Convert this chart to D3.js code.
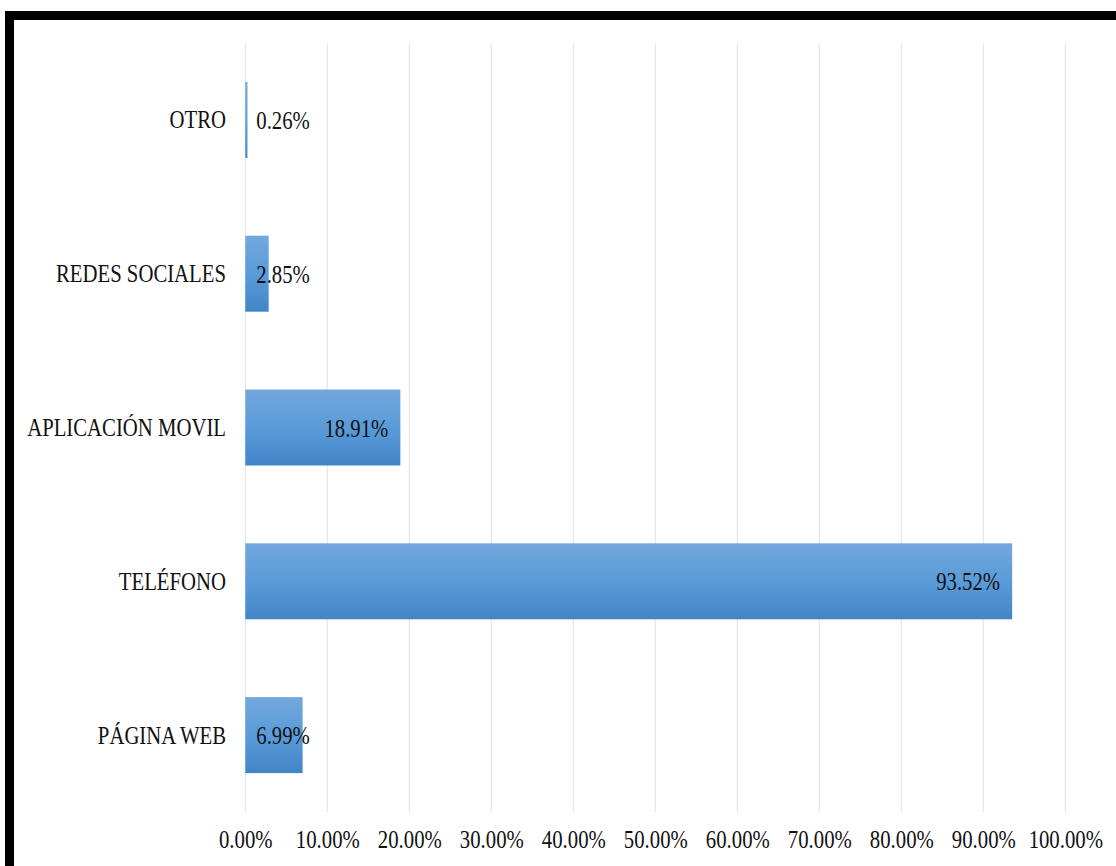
<!DOCTYPE html>
<html>
<head>
<meta charset="utf-8">
<script src="https://cdn.jsdelivr.net/npm/d3@7"></script>
<style>
  html, body { margin: 0; padding: 0; background: #fff; }
  svg { display: block; }
</style>
</head>
<body>
<svg id="chart" width="1116" height="866"></svg>
<script>
// Channels used, top to bottom, and their share (%)
const categories = ["OTRO", "REDES SOCIALES", "APLICACIÓN MOVIL", "TELÉFONO", "PÁGINA WEB"];
const values = [0.26, 2.85, 18.91, 93.52, 6.99];
const tickValues = [0, 10, 20, 30, 40, 50, 60, 70, 80, 90, 100];

const data = categories.map((c, i) => ({ cat: c, val: values[i] }));

const FONT = '"Liberation Serif", "Times New Roman", serif';
const svg = d3.select("#chart");
const W = 1116, H = 866;
const plot = { left: 245.3, right: 1065.3, top: 43, bottom: 812 };
const squeeze = 0.83;   // narrow serif glyphs
const fontSize = 25;
const ink = "#111";

const x = d3.scaleLinear().domain([0, 100]).range([plot.left, plot.right]);
const y = d3.scaleBand().domain(categories).range([plot.top, plot.bottom])
  .paddingInner(0.506).paddingOuter(0.253);

// bar gradient, light at top to darker at bottom
const defs = svg.append("defs");
const grad = defs.append("linearGradient").attr("id", "barGrad")
  .attr("x1", 0).attr("y1", 0).attr("x2", 0).attr("y2", 1);
grad.append("stop").attr("offset", "0%").attr("stop-color", "#72a8dd");
grad.append("stop").attr("offset", "50%").attr("stop-color", "#5a9bd9");
grad.append("stop").attr("offset", "100%").attr("stop-color", "#4285c7");

// vertical gridlines
svg.append("g").selectAll("line").data(tickValues).join("line")
  .attr("x1", d => x(d)).attr("x2", d => x(d))
  .attr("y1", plot.top).attr("y2", plot.bottom)
  .attr("stroke", "#e2e2e2").attr("stroke-width", 1);

// bars
svg.append("g").selectAll("rect").data(data).join("rect")
  .attr("x", x(0))
  .attr("y", d => y(d.cat))
  .attr("width", d => Math.max(1.5, x(d.val) - x(0)))
  .attr("height", y.bandwidth())
  .attr("fill", "url(#barGrad)");

// category labels
svg.append("g").selectAll("text").data(data).join("text")
  .attr("transform", d => `translate(226,${y(d.cat) + y.bandwidth() / 2 + 8.5}) scale(${squeeze},1)`)
  .attr("text-anchor", "end")
  .style("font-family", FONT)
  .attr("font-size", fontSize)
  .attr("fill", ink)
  .text(d => d.cat);

// value labels: right-aligned inside bar end, clamped to the bar start
const fmt = v => v.toFixed(2) + "%";
const vl = svg.append("g").selectAll("text").data(data).join("text")
  .attr("text-anchor", "end")
  .style("font-family", FONT)
  .attr("font-size", fontSize)
  .attr("fill", ink)
  .text(d => fmt(d.val));
vl.attr("transform", function (d) {
  const w = this.getComputedTextLength() * squeeze;
  const right = Math.max(x(d.val) - 12, x(0) + 11 + w);
  return `translate(${right},${y(d.cat) + y.bandwidth() / 2 + 9}) scale(${squeeze},1)`;
});

// x axis tick labels
const axis = d3.axisBottom(x).tickValues(tickValues).tickSize(0).tickFormat(d => d.toFixed(2) + "%");
const ax = svg.append("g").attr("transform", `translate(0,${plot.bottom})`).call(axis);
ax.select(".domain").remove();
ax.selectAll("text")
  .attr("y", 36).attr("dy", null)
  .attr("font-size", fontSize)
  .style("font-family", FONT)
  .attr("fill", ink)
  .attr("transform", `scale(${squeeze},1)`);

// heavy frame along top and left edges
svg.append("rect").attr("x", 5).attr("y", 11).attr("width", W - 5).attr("height", 9).attr("fill", "#000");
svg.append("rect").attr("x", 5).attr("y", 11).attr("width", 9).attr("height", H - 11).attr("fill", "#000");
</script>
</body>
</html>
